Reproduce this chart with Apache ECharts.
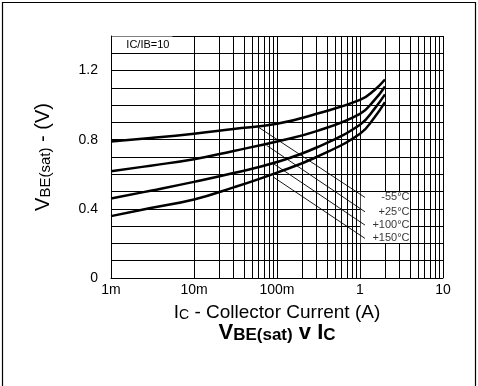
<!DOCTYPE html>
<html>
<head>
<meta charset="utf-8">
<script src="https://cdn.jsdelivr.net/npm/echarts@6/dist/echarts.min.js"></script>
<style>
html, body { margin: 0; padding: 0; background: #fff; }
#main { width: 478px; height: 386px; }
</style>
</head>
<body>
<div id="main"></div>
<script>
// collector current (A) sample points and VBE(sat) (V) per temperature
const currents = [0.001, 0.003, 0.01, 0.03, 0.1, 0.3, 1, 1.5, 2];
const vbeM55 = [0.79, 0.81, 0.835, 0.862, 0.892, 0.95, 1.03, 1.088, 1.148];
const vbe25 = [0.617, 0.65, 0.687, 0.735, 0.79, 0.85, 0.95, 1.03, 1.108];
const vbe100 = [0.46, 0.505, 0.556, 0.607, 0.671, 0.755, 0.887, 0.98, 1.062];
const vbe150 = [0.358, 0.405, 0.454, 0.524, 0.61, 0.70, 0.835, 0.93, 1.017];

const tempLabels = ['-55°C', '+25°C', '+100°C', '+150°C'];
// leader lines from each curve to its label: [I, V]
const leaderFrom = [[0.0569, 0.879], [0.0751, 0.767], [0.0903, 0.662], [0.0903, 0.584]];
const leaderTo = [[1.149, 0.466], [1.149, 0.383], [1.149, 0.306], [1.149, 0.229]];

const xTickValues = [0.001, 0.01, 0.1, 1, 10];
const xTickLabels = ['1m', '10m', '100m', '1', '10'];
const yTickLabels = [0, 0.4, 0.8, 1.2];
const ratioNote = 'IC/IB=10';

const FONT = '"Liberation Sans", Arial, sans-serif';

// minor vertical grid at 2..9 of each decade
let minorX = [];
[0.001, 0.01, 0.1, 1].forEach(d => {
    for (let k = 2; k <= 9; k++) minorX.push(d * k);
});

function curve(vals) {
    return {
        type: 'line',
        z: 5,
        smooth: 0.45,
        showSymbol: false,
        silent: true,
        lineStyle: { color: '#000', width: 2.5 },
        data: currents.map((c, i) => [c, vals[i]])
    };
}

// white boxes that blank the grid behind the notes: [I0, V0, I1, V1]
const boxes = [
    [0.00103, 1.303, 0.0055, 1.397],
    [1.02, 0.203, 4.0, 0.497]
];

let series = [
    // minor grid lines
    {
        type: 'line', z: 1, data: [], silent: true,
        markLine: {
            z: 1,
            silent: true, symbol: 'none', animation: false,
            label: { show: false },
            lineStyle: { color: '#000', width: 1, type: 'solid' },
            data: minorX.map(v => ({ xAxis: v }))
        }
    },
    {
        type: 'custom', z: 2, silent: true,
        encode: { x: [0, 2], y: [1, 3] },
        data: boxes,
        renderItem: (params, api) => {
            let p0 = api.coord([api.value(0), api.value(3)]);
            let p1 = api.coord([api.value(2), api.value(1)]);
            let el = {
                type: 'rect',
                shape: { x: p0[0], y: p0[1], width: p1[0] - p0[0], height: p1[1] - p0[1] },
                style: { fill: '#fff' }
            };
            if (params.dataIndex === 0) {
                el.textContent = {
                    style: { text: ratioNote, fill: '#000', fontSize: 11, fontFamily: FONT }
                };
                el.textConfig = { position: 'insideRight', distance: 3 };
            }
            return el;
        }
    },
    curve(vbeM55),
    curve(vbe25),
    curve(vbe100),
    curve(vbe150)
];

leaderFrom.forEach((p, i) => {
    series.push({
        type: 'line', z: 4, silent: true, showSymbol: false,
        lineStyle: { color: '#000', width: 0.9 },
        data: [p, leaderTo[i]]
    });
});

series.push({
    type: 'scatter', z: 6, silent: true, symbolSize: 0,
    label: {
        show: true, position: 'left', distance: 0,
        color: '#000', fontSize: 11, fontFamily: FONT,
        formatter: p => tempLabels[p.dataIndex]
    },
    data: leaderTo.map(p => [3.95, p[1]])
});

let myChart = echarts.init(document.getElementById('main'));
myChart.setOption({
    backgroundColor: '#fff',
    animation: false,
    grid: { left: 111, right: 35, top: 36, bottom: 108 },
    xAxis: {
        type: 'log',
        logBase: 10,
        min: 0.001,
        max: 10,
        name: '{n|I}{s|C}{n| - Collector Current (A)}',
        nameLocation: 'middle',
        nameGap: 25,
        nameTextStyle: {
            rich: {
                n: { fontSize: 19, color: '#000', fontFamily: FONT, verticalAlign: 'bottom' },
                s: { fontSize: 14, color: '#000', fontFamily: FONT, verticalAlign: 'bottom' }
            }
        },
        axisLine: { show: true, lineStyle: { color: '#000', width: 1 } },
        axisTick: { show: false },
        splitLine: { show: true, lineStyle: { color: '#000', width: 1 } },
        axisLabel: {
            color: '#000', fontSize: 14, fontFamily: FONT, margin: 5,
            showMinLabel: true, showMaxLabel: true,
            formatter: v => {
                let best = 0;
                xTickValues.forEach((t, i) => {
                    if (Math.abs(Math.log10(t) - Math.log10(v)) < Math.abs(Math.log10(xTickValues[best]) - Math.log10(v))) best = i;
                });
                return xTickLabels[best];
            }
        }
    },
    yAxis: {
        type: 'value',
        min: 0,
        max: 1.4,
        interval: 0.1,
        name: '{n|V}{s|BE(sat)}{n| - (V)}',
        nameLocation: 'middle',
        nameGap: 58,
        nameTextStyle: {
            rich: {
                n: { fontSize: 20, color: '#000', fontFamily: FONT, verticalAlign: 'bottom' },
                s: { fontSize: 15, color: '#000', fontFamily: FONT, verticalAlign: 'bottom' }
            }
        },
        axisLine: { show: true, lineStyle: { color: '#000', width: 1 } },
        axisTick: { show: false },
        splitLine: { show: true, lineStyle: { color: '#000', width: 1 } },
        axisLabel: {
            color: '#000', fontSize: 14, fontFamily: FONT, margin: 13,
            padding: [0, 0, 9, 0],
            formatter: v => {
                let hit = yTickLabels.find(t => Math.abs(t - v) < 1e-6);
                return hit === undefined ? '' : String(hit);
            }
        }
    },
    graphic: [
        {
            type: 'rect', silent: true,
            shape: { x: 2.5, y: 2.5, width: 473, height: 420 },
            style: { fill: 'none', stroke: '#000', lineWidth: 1.2 }
        },
        {
            type: 'text', silent: true, x: 277, y: 333,
            style: {
                text: '{b|V}{s|BE(sat)}{b| v I}{s|C}',
                align: 'center', verticalAlign: 'middle',
                rich: {
                    b: { fontSize: 22, fontWeight: 'bold', fill: '#000', fontFamily: FONT, verticalAlign: 'bottom' },
                    s: { fontSize: 17, fontWeight: 'bold', fill: '#000', fontFamily: FONT, verticalAlign: 'bottom' }
                }
            }
        }
    ],
    series: series
});
</script>
</body>
</html>
